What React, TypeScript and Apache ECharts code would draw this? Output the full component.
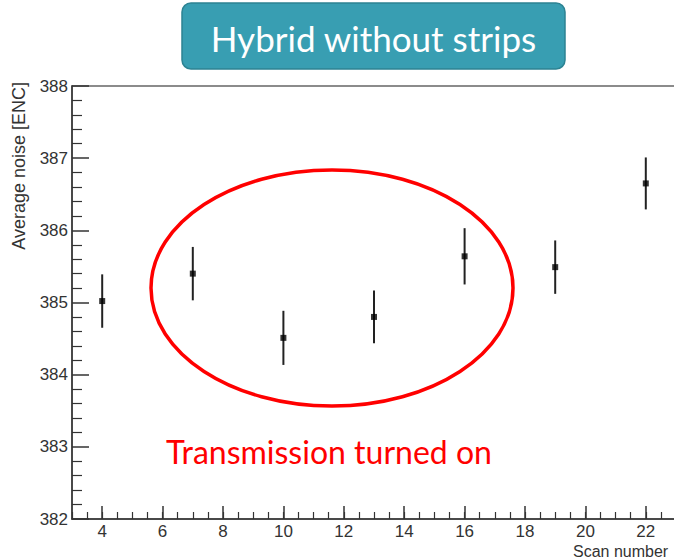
import React, { useEffect, useRef } from "react";
import * as echarts from "echarts";

// Scan numbers and measured average noise with its uncertainty
const scanNumbers = [4, 7, 10, 13, 16, 19, 22];
const avgNoise = [385.02, 385.4, 384.51, 384.8, 385.64, 385.49, 386.65];
const noiseErr = [0.37, 0.37, 0.375, 0.365, 0.39, 0.37, 0.36];

const yTicks = [382, 383, 384, 385, 386, 387, 388];

const titleText = "Hybrid without strips";
const noteText = "Transmission turned on";
const xTitle = "Scan number";
const yTitle = "Average noise [ENC]";

export default function App() {
  const ref = useRef<HTMLDivElement>(null);

  useEffect(() => {
    if (!ref.current) return;
    const chart = echarts.init(ref.current, null, { renderer: "svg" });

    const points = scanNumbers.map((x, i) => [x, avgNoise[i], noiseErr[i]]);
    const axisFont = "Liberation Sans, Arial, sans-serif";
    const calloutFont = "Lato, 'Open Sans', sans-serif";

    chart.setOption({
      animation: false,
      backgroundColor: "#ffffff",
      grid: {
        left: 72,
        top: 86,
        width: 604,
        height: 433,
        show: true,
        borderColor: "#666",
        borderWidth: 1.5,
        containLabel: false,
        outerBoundsMode: "none",
      },
      xAxis: [
        {
          type: "value",
          min: 3,
          max: 23,
          splitNumber: 10,
          position: "bottom",
          axisLine: { show: true, lineStyle: { color: "#333", width: 1.5 } },
          axisTick: { show: true, inside: true, length: 13, lineStyle: { color: "#333", width: 1.5 } },
          axisLabel: {
            showMinLabel: false,
            showMaxLabel: false,
            margin: 5,
            lineHeight: 14,
            fontFamily: axisFont,
            fontSize: 17,
            color: "#333",
          },
          splitLine: { show: false },
        },
        {
          // fine ticks every half scan
          type: "value",
          min: 3,
          max: 23,
          interval: 0.5,
          position: "bottom",
          axisLine: { show: false },
          axisTick: { show: true, inside: true, length: 7, lineStyle: { color: "#333", width: 1.2 } },
          axisLabel: { show: false },
          splitLine: { show: false },
        },
      ],
      yAxis: {
        type: "value",
        min: yTicks[0],
        max: yTicks[yTicks.length - 1],
        interval: 1,
        axisLine: { show: true, lineStyle: { color: "#333", width: 1.5 } },
        axisTick: { show: true, inside: true, length: 17, lineStyle: { color: "#333", width: 1.5 } },
        minorTick: { show: true, splitNumber: 5, length: 10, lineStyle: { color: "#333", width: 1.2 } },
        axisLabel: {
          margin: 4,
          fontFamily: axisFont,
          fontSize: 17,
          color: "#333",
        },
        splitLine: { show: false },
      },
      graphic: [
        {
          type: "rect",
          shape: { x: 182, y: 3, width: 383, height: 66, r: 9 },
          style: { fill: "#389EB2", stroke: "#2C8393", lineWidth: 1.5 },
        },
        {
          type: "text",
          x: 373.5,
          y: 38,
          style: {
            text: titleText,
            fill: "#ffffff",
            font: `35px ${calloutFont}`,
            align: "center",
            verticalAlign: "middle",
          },
        },
        {
          type: "text",
          x: 19,
          y: 82,
          rotation: Math.PI / 2,
          style: {
            text: yTitle,
            fill: "#333",
            font: `18px ${axisFont}`,
            align: "right",
            verticalAlign: "middle",
          },
        },
        {
          type: "text",
          x: 573,
          y: 551,
          style: {
            text: xTitle,
            fill: "#333",
            font: `16px ${axisFont}`,
            lineHeight: 16,
            align: "left",
            verticalAlign: "middle",
          },
        },
        {
          type: "ellipse",
          shape: { cx: 332, cy: 288, rx: 181, ry: 118 },
          style: { fill: "none", stroke: "#ff0000", lineWidth: 3.5 },
        },
        {
          type: "text",
          x: 329,
          y: 451,
          style: {
            text: noteText,
            fill: "#ff0000",
            font: `32px ${calloutFont}`,
            align: "center",
            verticalAlign: "middle",
          },
        },
      ],
      series: [
        {
          type: "custom",
          xAxisIndex: 0,
          data: points,
          encode: { x: 0, y: 1 },
          renderItem: (_params: any, api: any) => {
            const x = api.value(0);
            const y = api.value(1);
            const e = api.value(2);
            const top = api.coord([x, y + e]);
            const bot = api.coord([x, y - e]);
            return {
              type: "line",
              shape: { x1: top[0], y1: top[1], x2: bot[0], y2: bot[1] },
              style: { stroke: "#222", lineWidth: 2 },
            };
          },
          z: 3,
        },
        {
          type: "scatter",
          xAxisIndex: 0,
          data: points.map((p) => [p[0], p[1]]),
          symbol: "rect",
          symbolSize: 6,
          itemStyle: { color: "#000" },
          z: 4,
        },
      ],
    });

    return () => chart.dispose();
  }, []);

  return (
    <div
      ref={ref}
      style={{ position: "absolute", left: 0, top: 0, width: 674, height: 560, background: "#fff" }}
    />
  );
}
